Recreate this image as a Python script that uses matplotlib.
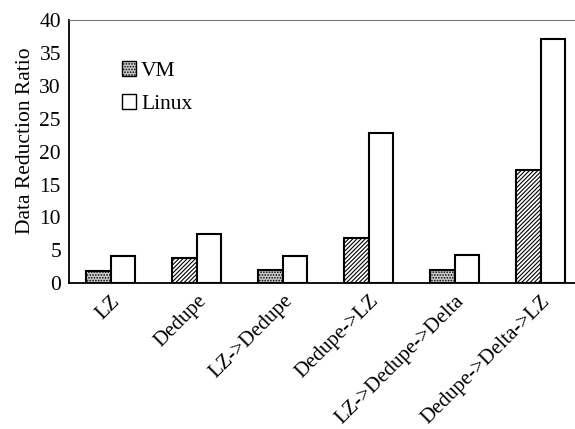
import matplotlib
matplotlib.use("Agg")
import matplotlib.pyplot as plt
import numpy as np
from matplotlib.patches import Patch

categories = ["LZ", "Dedupe", "LZ->Dedupe", "Dedupe->LZ", "LZ->Dedupe->Delta", "Dedupe->Delta->LZ"]
vm = [1.8, 3.9, 2.0, 6.9, 2.0, 17.2]
linux = [4.2, 7.5, 4.2, 22.8, 4.3, 37.1]
vm_style = ["dot", "diag", "dot", "diag", "dot", "diag"]
yticks = [0, 5, 10, 15, 20, 25, 30, 35, 40]

plt.rcParams['font.family'] = ['Liberation Serif', 'DejaVu Serif']
plt.rcParams['hatch.linewidth'] = 0.8

fig = plt.figure(figsize=(5.75, 4.29), dpi=100)
ax = fig.add_axes([0.1205, 0.3396, 0.897, 0.6138])

x = np.arange(len(categories))
w = 0.285
for i in range(len(categories)):
    if vm_style[i] == "dot":
        ax.bar(x[i] - w/2, vm[i], w, facecolor='#cccccc', edgecolor='black', hatch='......', linewidth=1.5)
    else:
        ax.bar(x[i] - w/2, vm[i], w, facecolor='white', edgecolor='black', hatch='////////', linewidth=1.5)
ax.bar(x + w/2, linux, w, facecolor='white', edgecolor='black', linewidth=1.5)

ax.set_xlim(-0.485, 5.515)
ax.set_ylim(0, 40)
ax.set_yticks(yticks)
ax.set_yticklabels([str(t) for t in yticks], fontsize=15.5)
ax.set_xticks(x)
ax.set_xticklabels(categories, rotation=45, ha='right', rotation_mode='anchor', fontsize=15)
ax.tick_params(axis='both', length=0, pad=6)
ax.set_ylabel("Data Reduction Ratio", fontsize=15.5)
ax.yaxis.set_label_coords(-0.066, 0.54)

ax.spines['right'].set_visible(False)
ax.spines['top'].set_linestyle((0, (1, 1)))
ax.spines['top'].set_color('#777777')
ax.spines['top'].set_linewidth(0.8)
ax.spines['left'].set_linewidth(1.3)
ax.spines['bottom'].set_linewidth(1.3)

handles = [Patch(facecolor='#cccccc', edgecolor='black', hatch='......'),
           Patch(facecolor='white', edgecolor='black')]
ax.legend(handles, ["VM", "Linux"], loc='upper left', bbox_to_anchor=(0.064, 0.917),
          frameon=False, fontsize=15.5, handlelength=0.65, handleheight=0.65,
          handletextpad=0.25, labelspacing=0.62)

fig.savefig("out.png", dpi=100)
